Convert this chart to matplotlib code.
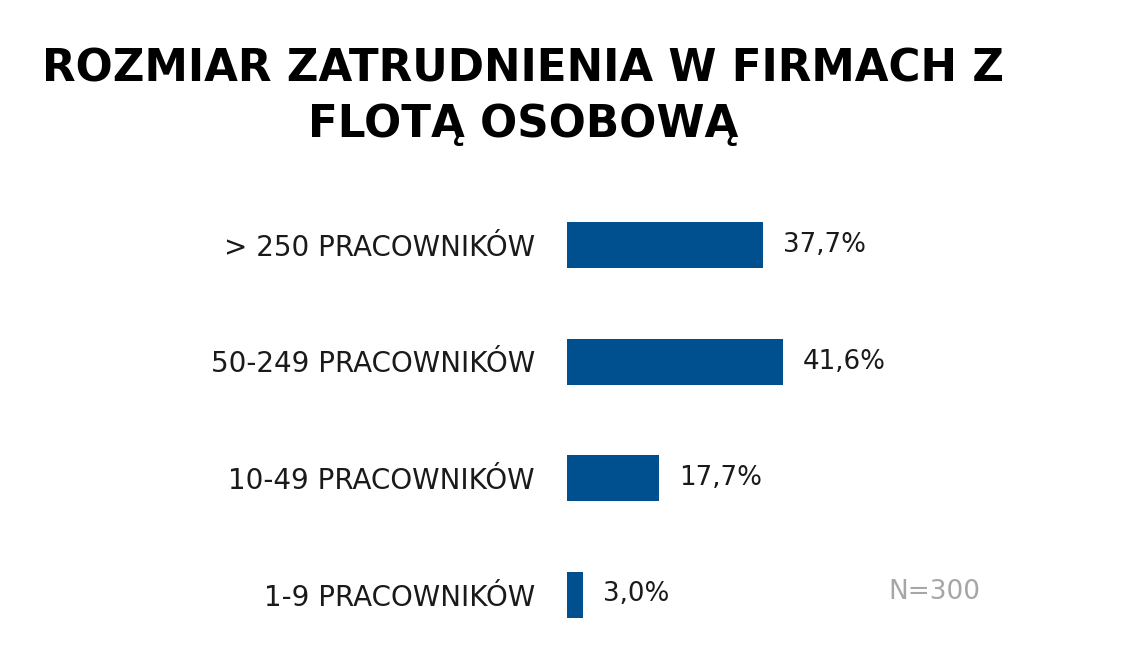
import matplotlib
matplotlib.use("Agg")
import matplotlib.pyplot as plt

categories = ["> 250 PRACOWNIKÓW", "50-249 PRACOWNIKÓW", "10-49 PRACOWNIKÓW", "1-9 PRACOWNIKÓW"]
values = [37.7, 41.6, 17.7, 3.0]
value_labels = ["37,7%", "41,6%", "17,7%", "3,0%"]
title_lines = ["ROZMIAR ZATRUDNIENIA W FIRMACH Z", "FLOTĄ OSOBOWĄ"]
note = "N=300"

W, H = 1140, 670
DPI = 100
fig = plt.figure(figsize=(W / DPI, H / DPI), dpi=DPI)
fig.patch.set_facecolor("white")

FONT = "DejaVu Sans"
BAR = "#004F8E"
TXT = "#1a1a1a"

# axes placement in pixels
x0_px = 567
px_per_unit = 5.19
x1_px = 1100
top_px, bot_px = 150, 650
spacing = 116.5
ax = fig.add_axes([x0_px / W, 1 - bot_px / H, (x1_px - x0_px) / W, (bot_px - top_px) / H])
ax.set_xlim(0, (x1_px - x0_px) / px_per_unit)
ytop = -(245 - top_px) / spacing
ybot = 3 + (bot_px - 594.5) / spacing
ax.set_ylim(ybot, ytop)

pos = list(range(len(categories)))
ax.barh(pos, values, height=46 / spacing, color=BAR)

for p, v, lab in zip(pos, values, value_labels):
    ax.annotate(lab, xy=(v, p), xytext=(14.5, 0), textcoords="offset points",
                ha="left", va="center", fontsize=18.8, color=TXT, family=FONT)

ax.set_yticks(pos)
ax.set_yticklabels(categories, fontsize=20, color=TXT, family=FONT)
ax.tick_params(axis="y", length=0, pad=23)
ax.set_xticks([])
for s in ax.spines.values():
    s.set_visible(False)

for ypx, line in zip([81, 137], title_lines):
    fig.text(523 / W, 1 - ypx / H, line, ha="center", va="baseline", fontsize=31.4,
             fontweight="bold", color="black", family=FONT)

fig.text(934 / W, 1 - 592 / H, note, ha="center", va="center", fontsize=19,
         color="#A6A6A6", family=FONT)

fig.savefig("out.png", dpi=DPI, facecolor="white")
